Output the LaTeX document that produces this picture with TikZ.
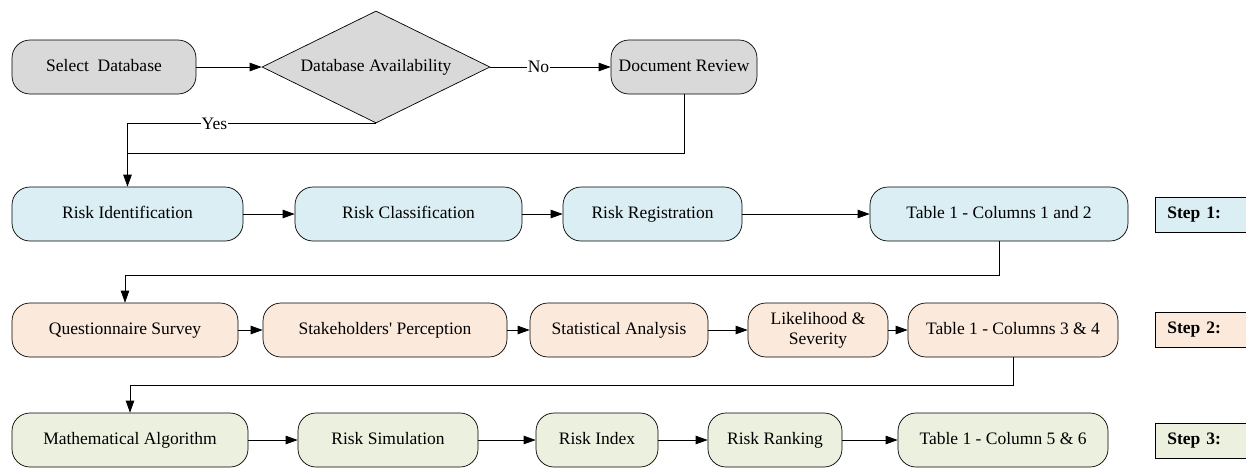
\documentclass[tikz,border=0pt]{standalone}
\usepackage{fontspec}
\setmainfont{Liberation Serif}
\usetikzlibrary{shapes.geometric,arrows.meta}
\definecolor{greyfill}{HTML}{D9D9D9}
\definecolor{bluefill}{HTML}{DAEEF3}
\definecolor{peachfill}{HTML}{FBE9DB}
\definecolor{greenfill}{HTML}{EBF1DE}
\newcommand{\straightq}{{\addfontfeature{Ligatures=TeXOff}'}}
\begin{document}
\begin{tikzpicture}[x=1pt,y=-1pt,font=\fontsize{17.5}{20}\selectfont,
    box/.style={draw, line width=0.7pt, rounded corners=18pt, minimum height=54pt, align=center,
        text height=12pt, text depth=4pt},
    decision/.style={draw, line width=0.7pt, diamond, aspect=2, inner sep=0pt, fill=greyfill,
        minimum width=228pt, minimum height=112pt},
    stepbox/.style={draw, line width=0.7pt, rectangle, anchor=west, minimum height=35pt,
        text width=80pt, inner xsep=12pt, font=\fontsize{17.5}{20}\selectfont\bfseries},
    arr/.style={line width=0.7pt, -{Triangle[length=12pt,width=8.5pt]}},
    link/.style={line width=0.7pt},
    lbl/.style={fill=white, inner sep=1pt}]
\useasboundingbox (0,0) rectangle (1246,475);
\clip (0,0) rectangle (1246,475);
% database selection
\node[box, fill=greyfill, minimum width=184pt] (sel) at (104,67) {Select\ \ Database};
\node[decision] (avail) at (376,67) {Database Availability};
\node[box, fill=greyfill, minimum width=146pt] (rev) at (684,67) {Document Review};
% step 1
\node[box, fill=bluefill, minimum width=231pt] (rid) at (127.5,214) {Risk Identification};
\node[box, fill=bluefill, minimum width=227pt] (rcl) at (408.5,214) {Risk Classification};
\node[box, fill=bluefill, minimum width=179pt] (rreg) at (652.5,214) {Risk Registration};
\node[box, fill=bluefill, minimum width=258pt] (t12) at (999,214) {Table 1 - Columns 1 and 2};
\node[stepbox, fill=bluefill] (s1) at (1155,215) {Step 1:};
% step 2
\node[box, fill=peachfill, minimum width=226pt] (qs) at (125,330) {Questionnaire Survey};
\node[box, fill=peachfill, minimum width=244pt] (sp) at (385,330) {Stakeholders\straightq\ Perception};
\node[box, fill=peachfill, minimum width=178pt] (sa) at (619,330) {Statistical Analysis};
\node[box, fill=peachfill, minimum width=140pt, text height=, text depth=] (ls) at (818,330) {Likelihood \&\\Severity};
\node[box, fill=peachfill, minimum width=210pt] (t34) at (1013,330) {Table 1 - Columns 3 \& 4};
\node[stepbox, fill=peachfill] (s2) at (1155,330) {Step 2:};
% step 3
\node[box, fill=greenfill, minimum width=236pt] (ma) at (130,440) {Mathematical Algorithm};
\node[box, fill=greenfill, minimum width=180pt] (rs) at (388,440) {Risk Simulation};
\node[box, fill=greenfill, minimum width=122pt] (ri) at (597,440) {Risk Index};
\node[box, fill=greenfill, minimum width=134pt] (rr) at (775,440) {Risk Ranking};
\node[box, fill=greenfill, minimum width=210pt] (t56) at (1003,440) {Table 1 - Column 5 \& 6};
\node[stepbox, fill=greenfill] (s3) at (1155,441) {Step 3:};
% connectors
\draw[arr] (sel) -- (avail);
\draw[arr] (avail) -- node[lbl, pos=0.4] {No} (rev);
\path (rid.north) ++(0,-33) coordinate (j1);
\draw[arr] (avail.south) -- node[lbl, pos=0.65] {Yes} (avail.south -| rid.north) -- (rid.north);
\draw[link] (rev.south) |- (j1);
\draw[arr] (rid) -- (rcl);
\draw[arr] (rcl) -- (rreg);
\draw[arr] (rreg) -- (t12);
\draw[arr] (t12.south) -- ++(0,34) -| (qs.north);
\draw[arr] (qs) -- (sp);
\draw[arr] (sp) -- (sa);
\draw[arr] (sa) -- (ls);
\draw[arr] (ls) -- (t34);
\draw[arr] (t34.south) -- ++(0,28) -| (ma.north);
\draw[arr] (ma) -- (rs);
\draw[arr] (rs) -- (ri);
\draw[arr] (ri) -- (rr);
\draw[arr] (rr) -- (t56);
\end{tikzpicture}
\end{document}
